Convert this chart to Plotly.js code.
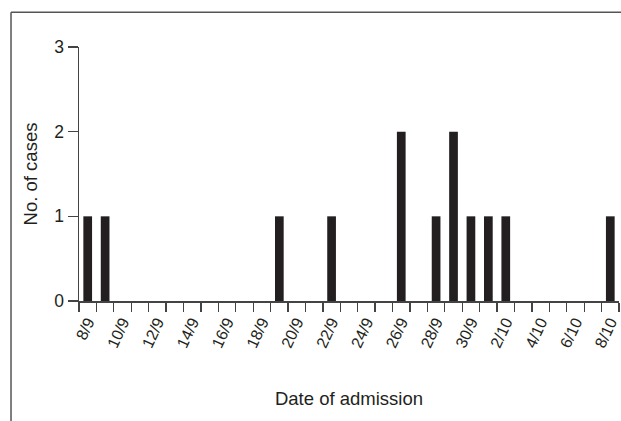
<!DOCTYPE html>
<html>
<head>
<meta charset="utf-8">
<script src="https://cdn.plot.ly/plotly-3.0.1.min.js"></script>
<style>
html,body{margin:0;padding:0;background:#fff;}
#chart{width:621px;height:421px;}
</style>
</head>
<body>
<div id="chart"></div>
<script>
// Dates of admission (one category per day)
const dates = ["8/9","9/9","10/9","11/9","12/9","13/9","14/9","15/9","16/9","17/9","18/9","19/9","20/9","21/9","22/9","23/9","24/9","25/9","26/9","27/9","28/9","29/9","30/9","1/10","2/10","3/10","4/10","5/10","6/10","7/10","8/10"];
// Number of cases per day
const cases = [1,1,0,0,0,0,0,0,0,0,0,1,0,0,1,0,0,0,2,0,1,2,1,1,1,0,0,0,0,0,1];
// Labels shown every second day
const tickLabels = ["8/9","10/9","12/9","14/9","16/9","18/9","20/9","22/9","24/9","26/9","28/9","30/9","2/10","4/10","6/10","8/10"];
const yTicks = [0,1,2,3];

const ticktext = dates.map(d => tickLabels.includes(d) ? d : "");

const font = {family: "Liberation Sans, Arial, sans-serif", color: "#231f20"};

const trace = {
  type: "bar",
  x: dates,
  y: cases,
  marker: {color: "#231f20", line: {width: 0}},
  hoverinfo: "x+y"
};

const layout = {
  width: 621, height: 421,
  margin: {l: 79, r: 1.5, t: 47, b: 120},
  paper_bgcolor: "#fff", plot_bgcolor: "#fff",
  bargap: 0.5,
  showlegend: false,
  font: Object.assign({size: 17}, font),
  xaxis: {
    type: "category",
    categoryorder: "array",
    categoryarray: dates,
    tickmode: "array",
    tickvals: dates,
    ticktext: ticktext,
    tickson: "boundaries",
    ticks: "outside", ticklen: 9, tickwidth: 1.3, tickcolor: "#444",
    showline: true, linecolor: "#444", linewidth: 1.5,
    showgrid: false, zeroline: false,
    tickangle: -65,
    ticklabelstandoff: 4,
    tickfont: Object.assign({size: 16}, font),
    title: {text: "Date of admission", font: Object.assign({size: 18.5}, font), standoff: 42},
    automargin: false
  },
  yaxis: {
    range: [0, 3],
    tickmode: "array", tickvals: yTicks,
    ticks: "outside", ticklen: 10, tickwidth: 1.3, tickcolor: "#444",
    showline: true, linecolor: "#444", linewidth: 1.5,
    showgrid: false, zeroline: false,
    tickfont: Object.assign({size: 17.5}, font),
    title: {text: "No. of cases", font: Object.assign({size: 18.5}, font), standoff: 12},
    automargin: false
  },
  shapes: [
    {type: "line", xref: "paper", yref: "paper", x0: -0.1259, x1: 1.01, y0: 1.1368, y1: 1.1368, line: {color: "#555", width: 1.5}},
    {type: "line", xref: "paper", yref: "paper", x0: -0.1259, x1: -0.1259, y0: 1.1368, y1: -0.5, line: {color: "#555", width: 1.5}}
  ]
};

Plotly.newPlot("chart", [trace], layout, {displayModeBar: false, staticPlot: true});
</script>
</body>
</html>
